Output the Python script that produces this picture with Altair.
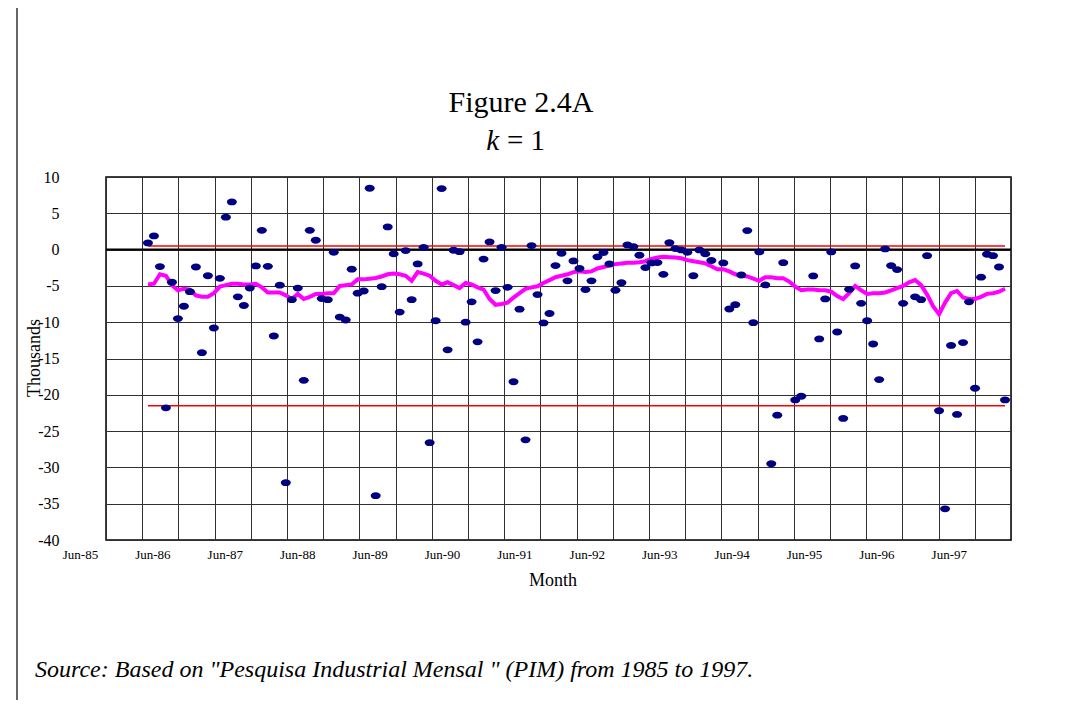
import altair as alt
import pandas as pd

# months counted from Jun-85 (0); the series runs Jan-86 (7) .. Dec-97 (150)
first_month = 7
values = [
    0.92, 1.88, -2.34, -21.8, -4.5, -9.5, -7.8, -5.8, -2.4, -14.2,
    -3.6, -10.8, -3.95, 4.46, 6.57, -6.5, -7.7, -5.3, -2.25, 2.66,
    -2.3, -11.9, -4.9, -32.1, -6.9, -5.3, -18.0, 2.66, 1.29, -6.75,
    -6.9, -0.37, -9.3, -9.7, -2.7, -6.0, -5.7, 8.45, -33.9, -5.1,
    3.12, -0.6, -8.6, -0.14, -6.9, -1.98, 0.32, -26.6, -9.8, 8.4,
    -13.8, -0.09, -0.28, -10.0, -7.2, -12.7, -1.3, 1.06, -5.65, 0.32,
    -5.2, -18.2, -8.2, -26.2, 0.55, -6.2, -10.1, -8.8, -2.2, -0.5,
    -4.3, -1.56, -2.6, -5.5, -4.3, -1.0, -0.41, -1.97, -5.6, -4.55,
    0.64, 0.41, -0.78, -2.48, -1.84, -1.79, -3.4, 0.96, 0.14, -0.05,
    -0.37, -3.6, -0.05, -0.6, -1.5, None, -1.84, -8.18, -7.58, -3.5,
    2.62, -10.06, -0.32, -4.87, -29.5, -22.8, -1.8, None, -20.7, -20.2,
    None, -3.63, -12.3, -6.8, -0.32, -11.35, -23.25, -5.47, -2.25, -7.4,
    -9.8, -13.0, -17.9, 0.09, -2.2, -2.75, -7.4, None, -6.5, -6.9,
    -0.83, None, -22.2, -35.7, -13.2, -22.7, -12.8, -7.2, -19.1, -3.8,
    -0.64, -0.83, -2.4, -20.7,
]
moving_avg = [
    -4.8, -4.7, -3.4, -3.6, -4.9, -5.6, -5.4, -5.5, -6.3, -6.5,
    -6.5, -6.0, -5.1, -4.9, -4.7, -4.7, -4.8, -4.8, -4.7, -5.2,
    -5.9, -5.9, -5.9, -6.3, -6.8, -6.1, -6.8, -6.5, -6.1, -6.1,
    -6.0, -6.0, -5.0, -4.9, -4.8, -4.1, -4.1, -4.0, -3.9, -3.7,
    -3.4, -3.3, -3.4, -3.6, -4.3, -3.1, -3.3, -3.6, -4.3, -4.8,
    -4.5, -4.9, -5.3, -4.6, -4.8, -5.2, -5.5, -6.8, -7.6, -7.5,
    -7.3, -6.6, -6.0, -5.4, -5.2, -5.05, -4.6, -4.2, -3.8, -3.6,
    -3.4, -3.1, -3.0, -3.1, -3.0, -2.6, -2.4, -2.2, -2.0, -1.9,
    -1.8, -1.8, -1.75, -1.6, -1.3, -1.1, -1.0, -1.05, -1.1, -1.2,
    -1.45, -1.6, -1.75, -1.9, -2.3, -2.7, -2.7, -3.0, -3.4, -3.6,
    -3.7, -4.0, -4.3, -3.8, -3.8, -3.95, -3.95, -4.4, -5.1, -5.6,
    -5.5, -5.5, -5.6, -5.6, -5.8, -6.4, -6.8, -6.0, -5.0, -5.6,
    -6.1, -6.0, -6.0, -5.9, -5.6, -5.3, -5.0, -4.5, -4.2, -4.9,
    -6.2, -7.8, -8.9, -7.3, -6.0, -5.7, -6.6, -6.8, -6.8, -6.5,
    -6.1, -6.0, -5.8, -5.4,
]
upper_limit = 0.5
lower_limit = -21.5
tick_labels = ["Jun-85", "Jun-86", "Jun-87", "Jun-88", "Jun-89", "Jun-90", "Jun-91",
               "Jun-92", "Jun-93", "Jun-94", "Jun-95", "Jun-96", "Jun-97"]
y_ticks = [10, 5, 0, -5, -10, -15, -20, -25, -30, -35, -40]
title_text = "Figure 2.4A"
subtitle_var = "k"
subtitle_rest = "= 1"
x_title = "Month"
y_title = "Thousands"
source_text = 'Source: Based on "Pesquisa Industrial Mensal " (PIM) from 1985 to 1997.'

months = list(range(first_month, first_month + len(values)))
last_month = months[-1]
x_max = 151
n_grid = 25
step = x_max / n_grid
grid_vals = [i * step for i in range(n_grid + 1)]

df = pd.DataFrame({"m": months, "v": values, "ma": moving_avg})
limits = pd.DataFrame({"m": [first_month, first_month], "m2": [last_month, last_month],
                       "v": [upper_limit, lower_limit]})
zero_df = pd.DataFrame({"v": [0]})

FONT = "Liberation Serif"
labels_js = "[" + ",".join("'" + t + "'" for t in tick_labels) + "]"
label_expr = (f"round(datum.value/{step}) % 2 == 0 ? "
              f"{labels_js}[round(datum.value/{step})/2] : ''")

W, H = 905, 363

x_scale = alt.Scale(domain=[0, x_max], nice=False, zero=False)
y_scale = alt.Scale(domain=[-40, 10], nice=False, zero=False)

x_axis = alt.Axis(values=grid_vals, labelExpr=label_expr, grid=True, gridColor="#303030",
                  gridWidth=1, ticks=False, domain=False, labelFont=FONT, labelFontSize=13,
                  labelColor="black", labelPadding=8, labelOffset=-26, labelFlush=False,
                  labelOverlap=False, title=None)
y_axis = alt.Axis(values=y_ticks, labelExpr="'' + datum.value", grid=True, gridColor="#303030",
                  gridWidth=1, ticks=False, domain=False, labelFont=FONT, labelFontSize=16,
                  labelColor="black", labelPadding=47, labelOverlap=False, labelFlush=False,
                  title=None)

X = alt.X("m:Q", scale=x_scale, axis=x_axis)
Y_PTS = alt.Y("v:Q", scale=y_scale, axis=y_axis)
Y_MA = alt.Y("ma:Q", scale=y_scale, axis=y_axis)

base = alt.Chart(df)

zero_line = alt.Chart(zero_df).mark_rule(color="black", strokeWidth=2).encode(y=Y_PTS)

limit_lines = alt.Chart(limits).mark_rule(color="#FF0000", strokeWidth=1.6).encode(
    x=X, x2="m2:Q", y=Y_PTS
)

ma_line = base.mark_line(color="#FF00FF", strokeWidth=4).encode(x=X, y=Y_MA)

ellipse = "M-1,0A1,0.68,0,1,1,1,0A1,0.68,0,1,1,-1,0Z"
points = base.transform_filter("isValid(datum.v)").mark_point(
    filled=True, shape=ellipse, size=100, color="#000080", opacity=1
).encode(x=X, y=Y_PTS)


def label(text, x, y, size, align="center", style="normal", angle=0, baseline="alphabetic"):
    return alt.Chart(pd.DataFrame({"t": [text]})).mark_text(
        font=FONT, fontSize=size, fontStyle=style, align=align, baseline=baseline,
        angle=angle, color="black"
    ).encode(x=alt.value(x), y=alt.value(y), text="t:N")


texts = [
    label(title_text, 415, -65, 30),
    label(subtitle_var, 393, -27, 29, align="right", style="italic"),
    label(subtitle_rest, 401, -27, 29, align="left"),
    label(x_title, 447, 409, 18),
    label(y_title, -71, 181, 18, angle=270, baseline="middle"),
    label(source_text, -71, 500, 24, align="left", style="italic"),
]

frame_line = alt.Chart(pd.DataFrame({"a": [0]})).mark_rule(color="black", strokeWidth=1.2).encode(
    x=alt.value(-89), y=alt.value(-170), y2=alt.value(H + 170)
)

chart = alt.layer(
    zero_line, limit_lines, ma_line, points, frame_line, *texts
).properties(
    width=W, height=H,
    autosize=alt.AutoSizeParams(type="none"),
    padding={"left": 98, "top": 169, "right": 40, "bottom": 160},
    background="white",
).configure_view(stroke="black", strokeWidth=1.5)

chart.save("out.html", embed_options={"renderer": "svg", "actions": False})
